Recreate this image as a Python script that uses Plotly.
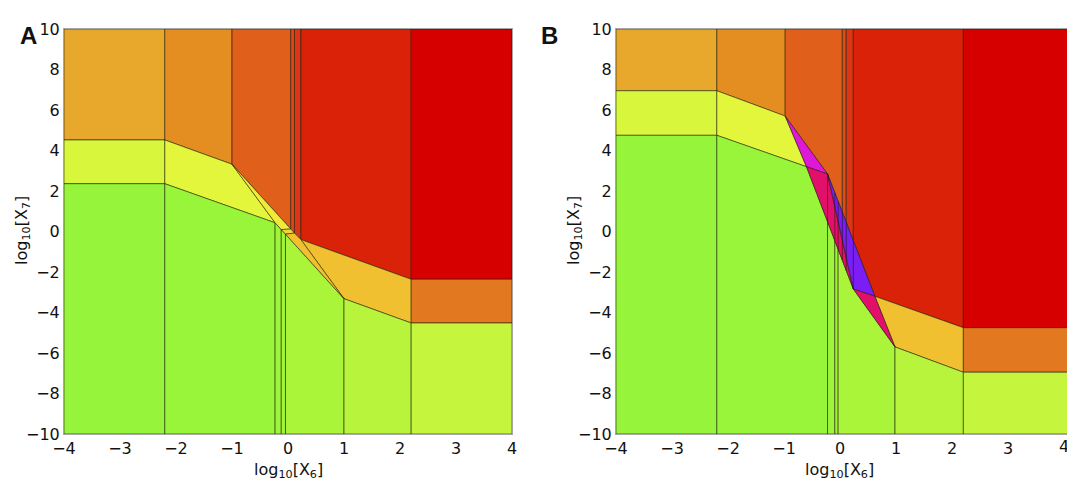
import plotly.graph_objects as go

# ---------------- data (log10 coordinates) ----------------
# Panel A key vertices
A_P1 = (-2.2, 4.52); A_P2 = (-1.0, 3.32); A_P3 = (-2.2, 2.36)
A_L = (-0.23, 0.43); A_R = (0.23, -0.40)
A_Q1 = (2.2, -4.52); A_Q2 = (1.0, -3.32); A_Q3 = (2.2, -2.36)
A_C1L = (-0.12, 0.095); A_C1R = (0.05, 0.12)
A_C2L = (-0.045, -0.13); A_C2R = (0.115, -0.08)

# Panel B key vertices
B_P1 = (-2.2, 6.95); B_P2 = (-0.98, 5.70); B_P3 = (-2.2, 4.75)
B_Ap = (-0.60, 3.20); B_A = (-0.224, 2.84)
B_Bp = (0.236, -2.84); B_B = (0.62, -3.20)
B_Q1 = (2.2, -6.95); B_Q2 = (0.98, -5.70); B_Q3 = (2.2, -4.75)
B_top_cols = [(0.04, 0.95), (0.11, 0.45)]
B_bot_cols = [(-0.094, -0.45), (-0.035, -0.88)]
B_Ap_col = (-0.224, 0.49)
B_R_col = (0.236, -0.45)

XMIN, XMAX, YMIN, YMAX = -4, 4, -10, 10
x_ticks = [-4, -3, -2, -1, 0, 1, 2, 3, 4]
y_ticks = [-10, -8, -6, -4, -2, 0, 2, 4, 6, 8, 10]

C = dict(
    o1="#E8A82C", o2="#E48E22", o3="#E05F1A", o4="#DE4A18", o5="#DC3614",
    r1="#DA2208", r2="#D60000", y1="#D8F63C", y2="#E4F63C", yb="#F2EA38",
    ym="#F0D636", gold="#F0C030", orr="#E27820",
    g1="#96F53A", g2="#98F53A", g3="#9EF53A", g4="#A2F53A", g5="#AAF53A",
    g6="#B8F43C", g7="#C6F53E",
    mag="#DE18D6", crim="#E2106A", blue="#7A1EF4",
)

# ---------------- polygons ----------------
def polys_A():
    P1, P2, P3, L, R = A_P1, A_P2, A_P3, A_L, A_R
    Q1, Q2, Q3 = A_Q1, A_Q2, A_Q3
    c1l, c1r, c2l, c2r = A_C1L, A_C1R, A_C2L, A_C2R
    return [
        ([(-4, 10), (P1[0], 10), P1, (-4, P1[1])], C["o1"]),
        ([(P1[0], 10), (P2[0], 10), P2, P1], C["o2"]),
        ([(P2[0], 10), (c1r[0], 10), c1r, P2], C["o3"]),
        ([(c1r[0], 10), (c2r[0], 10), c2r, c1r], C["o4"]),
        ([(c2r[0], 10), (R[0], 10), R, c2r], C["o5"]),
        ([(R[0], 10), (Q3[0], 10), Q3, R], C["r1"]),
        ([(Q3[0], 10), (4, 10), (4, Q3[1]), Q3], C["r2"]),
        ([(-4, P1[1]), P1, P3, (-4, P3[1])], C["y1"]),
        ([P1, P2, L, P3], C["y2"]),
        ([R, Q3, Q1, Q2], C["gold"]),
        ([Q3, (4, Q3[1]), (4, Q1[1]), Q1], C["orr"]),
        ([(-4, P3[1]), P3, (P3[0], -10), (-4, -10)], C["g1"]),
        ([P3, L, (L[0], -10), (P3[0], -10)], C["g2"]),
        ([L, c1l, (c1l[0], -10), (L[0], -10)], C["g3"]),
        ([c1l, c2l, (c2l[0], -10), (c1l[0], -10)], C["g4"]),
        ([c2l, Q2, (Q2[0], -10), (c2l[0], -10)], C["g5"]),
        ([Q2, Q1, (Q1[0], -10), (Q2[0], -10)], C["g6"]),
        ([Q1, (4, Q1[1]), (4, -10), (Q1[0], -10)], C["g7"]),
        ([P2, c1r, c1l, L], C["yb"]),
        ([c1l, c1r, c2r, c2l], C["ym"]),
        ([c2l, c2r, R, Q2], C["gold"]),
    ], []


def polys_B():
    P1, P2, P3 = B_P1, B_P2, B_P3
    Ap, A, Bp, B = B_Ap, B_A, B_Bp, B_B
    Q1, Q2, Q3 = B_Q1, B_Q2, B_Q3
    t1, t2 = B_top_cols
    b1, b2 = B_bot_cols
    polys = [
        ([(-4, 10), (P1[0], 10), P1, (-4, P1[1])], C["o1"]),
        ([(P1[0], 10), (P2[0], 10), P2, P1], C["o2"]),
        ([(P2[0], 10), (t1[0], 10), t1, A, P2], C["o3"]),
        ([(t1[0], 10), (t2[0], 10), t2, t1], C["o4"]),
        ([(t2[0], 10), (B_R_col[0], 10), B_R_col, t2], C["o5"]),
        ([(B_R_col[0], 10), (Q3[0], 10), Q3, B, B_R_col], C["r1"]),
        ([(Q3[0], 10), (4.2, 10), (4.2, Q3[1]), Q3], C["r2"]),
        ([(-4, P1[1]), P1, P3, (-4, P3[1])], C["y1"]),
        ([P1, P2, Ap, P3], C["y2"]),
        ([B, Q3, Q1, Q2], C["gold"]),
        ([Q3, (4.2, Q3[1]), (4.2, Q1[1]), Q1], C["orr"]),
        ([(-4, P3[1]), P3, (P3[0], -10), (-4, -10)], C["g1"]),
        ([P3, Ap, B_Ap_col, (B_Ap_col[0], -10), (P3[0], -10)], C["g2"]),
        ([B_Ap_col, b1, (b1[0], -10), (B_Ap_col[0], -10)], C["g3"]),
        ([b1, b2, (b2[0], -10), (b1[0], -10)], C["g4"]),
        ([b2, Bp, Q2, (Q2[0], -10), (b2[0], -10)], C["g5"]),
        ([Q2, Q1, (Q1[0], -10), (Q2[0], -10)], C["g6"]),
        ([Q1, (4.2, Q1[1]), (4.2, -10), (Q1[0], -10)], C["g7"]),
        ([P2, A, Ap], C["mag"]),
        ([Ap, A, Bp], C["crim"]),
        ([A, B, Bp], C["blue"]),
        ([Bp, B, Q2], C["crim"]),
    ]
    # column lines crossing the band
    def y_on(p, q, x):
        return p[1] + (q[1] - p[1]) * (x - p[0]) / (q[0] - p[0])
    lines = [
        [(A[0], B_Ap_col[1]), A],
        [b1, (b1[0], y_on(A, B, b1[0]))],
        [b2, (b2[0], y_on(A, B, b2[0]))],
        [t1, (t1[0], y_on(Ap, Bp, t1[0]))],
        [t2, (t2[0], y_on(Ap, Bp, t2[0]))],
        [B_R_col, Bp],
    ]
    return polys, lines


EDGE = "rgba(20,20,0,0.6)"
fig = go.Figure()

for polys_lines, xa, ya in [(polys_A(), "x", "y"), (polys_B(), "x2", "y2")]:
    polys, lines = polys_lines
    for pts, col in polys:
        xs = [p[0] for p in pts] + [pts[0][0]]
        ys = [p[1] for p in pts] + [pts[0][1]]
        fig.add_trace(go.Scatter(x=xs, y=ys, fill="toself", fillcolor=col,
                                 mode="lines", line=dict(color=EDGE, width=0.9),
                                 xaxis=xa, yaxis=ya, hoverinfo="skip", showlegend=False))
    for seg in lines:
        fig.add_trace(go.Scatter(x=[p[0] for p in seg], y=[p[1] for p in seg],
                                 mode="lines", line=dict(color=EDGE, width=0.9),
                                 xaxis=xa, yaxis=ya, hoverinfo="skip", showlegend=False))

W, H = 1067, 486
def px(v): return v / W
def py(v): return (H - v) / H

tick_font = dict(family="DejaVu Sans", size=16, color="#111")
def lab(v): return str(v).replace("-", "\u2212")

axis_common = dict(showgrid=False, zeroline=False, showline=True, mirror=True,
                   linecolor="rgba(0,0,0,0.35)", linewidth=1, ticks="",
                   tickfont=tick_font, automargin=False)

fig.update_layout(
    template="none",
    width=W, height=H, margin=dict(l=0, r=0, t=0, b=0, autoexpand=False),
    paper_bgcolor="white", plot_bgcolor="white",
    xaxis=dict(domain=[px(64), px(512)], range=[XMIN, XMAX], tickvals=x_ticks,
               ticktext=[lab(v) for v in x_ticks], anchor="y", **axis_common),
    yaxis=dict(domain=[py(434), py(29)], range=[YMIN, YMAX], tickvals=y_ticks,
               ticktext=[lab(v) for v in y_ticks], anchor="x", **axis_common),
    xaxis2=dict(domain=[px(616), px(1067)], range=[XMIN, XMAX + 0.05], tickvals=x_ticks,
                ticktext=[lab(v) for v in x_ticks], anchor="y2", **axis_common),
    yaxis2=dict(domain=[py(434), py(29)], range=[YMIN, YMAX], tickvals=y_ticks,
                ticktext=[lab(v) for v in y_ticks], anchor="x2", **axis_common),
)

title_font = dict(family="DejaVu Sans", size=16, color="#111")
ann = []
for cx, ly in [((64 + 512) / 2, 22), ((616 + 1062) / 2, 574)]:
    ann.append(dict(x=px(cx), y=py(470), xref="paper", yref="paper",
                    text="log<sub>10</sub>[X<sub>6</sub>]", showarrow=False,
                    font=title_font, xanchor="center", yanchor="middle"))
    ann.append(dict(x=px(ly), y=py(231), xref="paper", yref="paper",
                    text="log<sub>10</sub>[X<sub>7</sub>]", showarrow=False,
                    font=title_font, textangle=-90, xanchor="center", yanchor="middle"))
ann.append(dict(x=px(18), y=py(20), xref="paper", yref="paper", text="<b>A</b>",
                showarrow=False, font=dict(family="Liberation Sans", size=24, color="#111")))
ann.append(dict(x=px(549), y=py(20), xref="paper", yref="paper", text="<b>B</b>",
                showarrow=False, font=dict(family="Liberation Sans", size=24, color="#111")))
# last tick label of panel B, partly cut by the page edge as in the reference
ann.append(dict(x=x_ticks[-1], y=py(446), xref="x2", yref="paper", text=lab(x_ticks[-1]),
                showarrow=False, font=tick_font, xanchor="center", yanchor="middle"))
fig.update_layout(annotations=ann)

fig.write_html("out.html")
